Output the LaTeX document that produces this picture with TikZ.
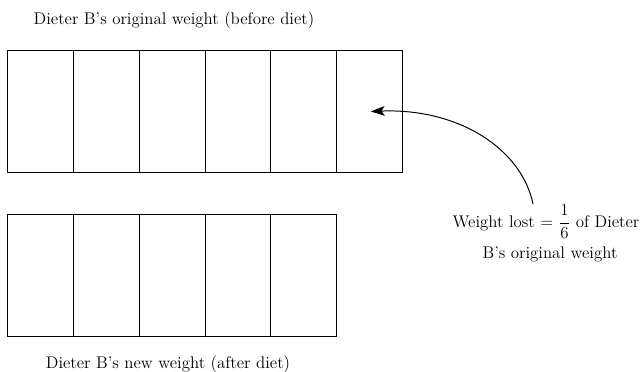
\documentclass[tikz,border=0pt]{standalone}
\usetikzlibrary{calc}
\usetikzlibrary{arrows.meta}

\begin{document}
\begin{tikzpicture}[x=0.025cm,y=-0.025cm]
        \tikzset{cell/.style={draw,line width=0.7pt,inner sep=0pt,minimum width=1.6425cm,minimum height=3.025cm}};
        \tikzset{lbl/.style={inner sep=1pt,font=\large}};
        \useasboundingbox (0,0) rectangle (642,372);
        \def\cw{65.7};
        % original weight: six parts
        \foreach \i in {1,...,6}
                \node[cell] (t\i) at ({8+\cw*(\i-0.5)},111.5) {};
        % new weight: five parts
        \foreach \i in {1,...,5}
                \node[cell] (b\i) at ({8+\cw*(\i-0.5)},275.5) {};
        \node[lbl] (toplbl) at (174,20) {Dieter B's original weight (before diet)};
        \node[lbl] (botlbl) at (168,364) {Dieter B's new weight (after diet)};
        \node[lbl] (lostA) at (546,222) {Weight lost = $\displaystyle\frac{1}{6}$ of Dieter};
        \node[lbl] (lostB) at (550,254) {B's original weight};
        \coordinate (tail) at (533,204);
        \coordinate (tip) at ($(t6.west)!0.52!(t6.east)$);
        \draw[line width=0.7pt,-{Stealth[length=3.5mm,width=2.4mm,inset=0.8mm]}] (tail) .. controls (522,150) and (460,108) .. (tip);
\end{tikzpicture}
\end{document}
